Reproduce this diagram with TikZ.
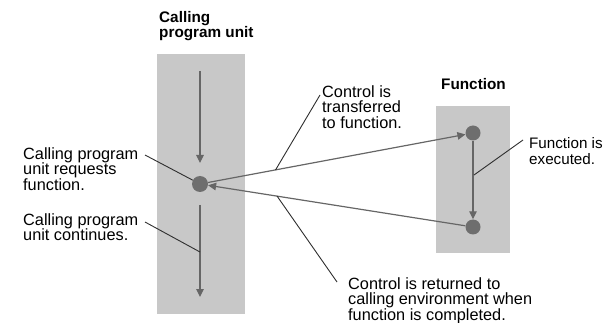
\documentclass[tikz,border=0pt]{standalone}
\usepackage{fontspec}
\setmainfont{Liberation Sans}
\usetikzlibrary{arrows.meta}
\definecolor{boxgray}{HTML}{C8C8C8}
\definecolor{dotgray}{HTML}{6E6E6E}
\definecolor{flowgray}{HTML}{666666}
\definecolor{leadgray}{HTML}{2E2E2E}
\begin{document}
\begin{tikzpicture}[x=1pt,y=-1pt,
  panel/.style={fill=boxgray,draw=none},
  dot/.style={circle,fill=dotgray,draw=none,inner sep=0pt,minimum size=#1},
  flow/.style={draw=flowgray,line width=1.2pt,-{Triangle[length=8pt,width=7.5pt]}},
  leader/.style={draw=leadgray,line width=0.9pt},
  note/.style={anchor=north west,inner sep=0pt,align=left,
    font=\fontsize{16.3pt}{15.5pt}\selectfont},
  heading/.style={anchor=north west,inner sep=0pt,align=left,
    font=\fontsize{15.3pt}{15.5pt}\selectfont\bfseries}]
\useasboundingbox (0,0) rectangle (605,323);

% panels
\fill[panel] (157,54) rectangle (245,314);
\fill[panel] (436,106) rectangle (510,253);

% headings
\node[heading] (hcall) at (159,11) {Calling\\program unit};
\node[heading] (hfun) at (441,78) {Function};

% control points
\node[dot=16pt] (L) at (200,184) {};
\node[dot=15pt] (T) at (473,133) {};
\node[dot=15pt] (B) at (473,227) {};
\coordinate (a1s) at (200,71);
\coordinate (a1e) at (200,163);
\coordinate (a2s) at (200,205);
\coordinate (a2e) at (200,297);

% flow of control
\draw[flow] (a1s) -- (a1e);
\draw[flow] (a2s) -- (a2e);
\draw[flow] (L) -- (T);
\draw[flow] (T) -- (B);
\draw[flow] (B) -- (L);

% notes
\node[note] (nreq) at (23,147) {Calling program\\unit requests\\function.};
\node[note] (ncont) at (23,213) {Calling program\\unit continues.};
\node[note] (ntrans) at (322,85) {Control is\\transferred\\to function.};
\node[note,font=\fontsize{15.2pt}{15.5pt}\selectfont] (nexec) at (529,137.5) {Function is\\executed.};
\node[note] (nret) at (348,277) {Control is returned to\\calling environment when\\function is completed.};

% leader lines
\coordinate (lreq) at (145,155);
\coordinate (lcont) at (145,222);
\coordinate (pcont) at (200,252);
\coordinate (ltrans) at (320,95);
\coordinate (ptrans) at (275.5,170);
\coordinate (lret) at (337,282);
\coordinate (pret) at (277,196);
\coordinate (lexec) at (523,140);
\coordinate (pexec) at (474,175);
\draw[leader] (lreq) -- (L);
\draw[leader] (lcont) -- (pcont);
\draw[leader] (ltrans) -- (ptrans);
\draw[leader] (lret) -- (pret);
\draw[leader] (lexec) -- (pexec);
\end{tikzpicture}
\end{document}
